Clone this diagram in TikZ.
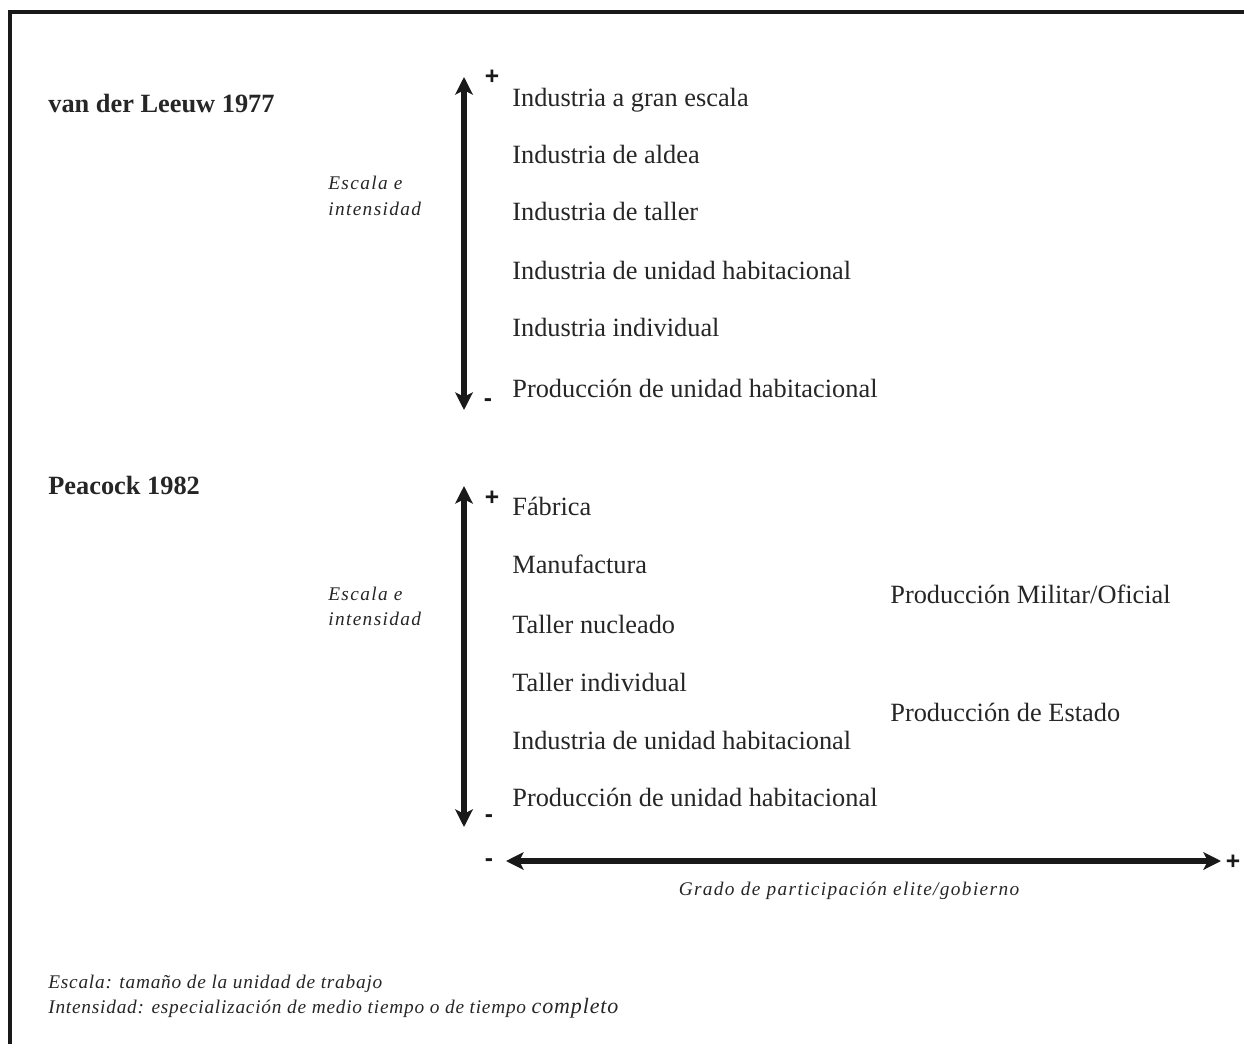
\documentclass[tikz,border=0pt]{standalone}
\usepackage{fontspec}
\setmainfont{Liberation Serif}
\newfontfamily\signfont{Liberation Sans}
\newfontfamily\spacedfont[LetterSpace=7]{Liberation Serif}
\newfontfamily\footfont[LetterSpace=4]{Liberation Serif}
\usetikzlibrary{positioning, arrows.meta}

\begin{document}
\begin{tikzpicture}[
    x=0.02cm, y=-0.02cm,
    axis/.style={{Stealth[length=10pt, width=10pt, inset=2.5pt]}-{Stealth[length=10pt, width=10pt, inset=2.5pt]}, line width=3pt, black!90},
    level/.style={anchor=base west, inner sep=0pt, font=\fontsize{15}{18}\selectfont, black!85},
    title/.style={anchor=base west, inner sep=0pt, font=\fontsize{15}{18}\selectfont\bfseries, black!85},
    note/.style={anchor=base west, inner sep=0pt, font=\fontsize{11}{13}\spacedfont\itshape, black!85},
    foot/.style={anchor=base west, inner sep=0pt, font=\fontsize{11}{13}\footfont\itshape, black!85},
    sign/.style={anchor=base, inner sep=0pt, font=\fontsize{14}{16}\signfont\bfseries, black!90}
]

    % Page and frame
    \useasboundingbox (0, 0) rectangle (1244, 1044);
    \fill[white] (0, 0) rectangle (1244, 1044);
    \draw[line width=2.2pt, black!90] (10, 1044) -- (10, 12) -- (1244, 12);

    % van der Leeuw 1977
    \node[title] (leeuw) at (48, 113) {van der Leeuw 1977};
    \coordinate (lTop) at (464, 77);
    \coordinate (lBot) at (464, 410);
    \draw[axis] (lBot) -- (lTop);
    \node[sign] (lPlus) at (492, 85) {+};
    \node[sign] (lMinus) at (488, 406) {-};
    \node[note] (lEsc) at (328, 190) {Escala e};
    \node[note] (lInt) at (328, 215) {intensidad};

    \node[level] (l1) at (512, 107) {Industria a gran escala};
    \node[level] (l2) at (512, 164) {Industria de aldea};
    \node[level] (l3) at (512, 221) {Industria de taller};
    \node[level] (l4) at (512, 279) {Industria de unidad habitacional};
    \node[level] (l5) at (512, 337) {Industria individual};
    \node[level] (l6) at (512, 397) {Producción de unidad habitacional};

    % Peacock 1982
    \node[title] (peacock) at (48, 494) {Peacock 1982};
    \coordinate (pTop) at (464, 486);
    \coordinate (pBot) at (464, 827);
    \draw[axis] (pBot) -- (pTop);
    \node[sign] (pPlus) at (492, 505) {+};
    \node[sign] (pMinus) at (489, 822) {-};
    \node[note] (pEsc) at (328, 600) {Escala e};
    \node[note] (pInt) at (328, 625) {intensidad};

    \node[level] (p1) at (512, 515) {Fábrica};
    \node[level] (p2) at (512, 573) {Manufactura};
    \node[level] (p3) at (512, 633) {Taller nucleado};
    \node[level] (p4) at (512, 691) {Taller individual};
    \node[level] (p5) at (512, 749) {Industria de unidad habitacional};
    \node[level] (p6) at (512, 806) {Producción de unidad habitacional};

    \node[level] (mil) at (890, 603) {Producción Militar/Oficial};
    \node[level] (est) at (890, 721) {Producción de Estado};

    % Elite / government axis
    \coordinate (gLeft) at (506, 861);
    \coordinate (gRight) at (1221, 861);
    \draw[axis] (gLeft) -- (gRight);
    \node[sign] (gMinus) at (489, 866) {-};
    \node[sign] (gPlus) at (1233, 869) {+};
    \node[note, anchor=base] (grado) at (849, 895) {Grado de participación elite/gobierno};

    % Footnotes
    \node[foot] (fEsc) at (48, 988) {Escala: tamaño de la unidad de trabajo};
    \node[foot] (fInt) at (48, 1013) {Intensidad: especialización de medio tiempo o de tiempo {\fontsize{12.5}{14}\selectfont completo}};

\end{tikzpicture}
\end{document}
